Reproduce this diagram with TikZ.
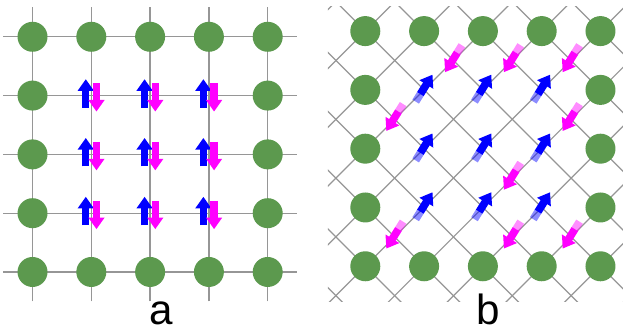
\documentclass[tikz,border=0pt]{standalone}
\usepackage{fontspec}
\setmainfont{Liberation Sans}
\usetikzlibrary{arrows.meta}
\definecolor{sitegreen}{RGB}{92,153,78}
\definecolor{linegray}{RGB}{150,150,150}
\definecolor{spinup}{RGB}{0,0,255}
\definecolor{spindown}{RGB}{255,0,255}
\tikzset{
  atom/.style={circle, fill=sitegreen, inner sep=0pt, minimum size=0.6cm},
  bond/.style={draw=linegray, line width=0.7pt},
  spin/.style={line width=4.2pt, -{Triangle[width=8.8pt,length=6.6pt]}},
  panellabel/.style={font=\fontsize{24}{28}\selectfont, anchor=base, inner sep=0pt},
}
% tilted spin of panel b: position, angle, colour
\newcommand{\tiltspin}[3]{%
  \begin{scope}[shift={#1}, rotate=#2]
    \draw[line width=4.4pt, #3, draw opacity=0.45] (-0.27,0) -- (-0.12,0);
    \draw[spin, #3, line width=4.4pt] (-0.12,0) -- (0.27,0);
  \end{scope}}

\begin{document}
\begin{tikzpicture}[x=1.176cm, y=1.176cm]
		\useasboundingbox (-0.553,-1.003) rectangle (10.043,4.626);

		%panel a: square grid
		\foreach \k in {0,...,4}
		{
		\draw [bond] (-0.5,\k) -- (4.5,\k);
		\draw [bond] (\k,-0.5) -- (\k,4.5);
		}

		%panel a: sites on the border
		\foreach \i in {0,...,4}
		{
		\node[atom] (a\i0) at (\i,0) {};
		\node[atom] (a\i4) at (\i,4) {};
		}
		\foreach \j in {1,2,3}
		{
		\node[atom] (a0\j) at (0,\j) {};
		\node[atom] (a4\j) at (4,\j) {};
		}

		%panel a: spin pairs
		\foreach \i in {1,2,3}
		\foreach \j in {1,2,3}
		{
		\draw [spin, spinup] (\i-0.094,\j-0.204) -- (\i-0.094,\j+0.279);
		\draw [spin, spindown] (\i+0.088,\j+0.211) -- (\i+0.088,\j-0.272);
		}

		\node[panellabel] (labela) at (2.197,-0.901) {a};

		%panel b: diagonal grid
		\begin{scope}
		\clip (5.025,-0.51) rectangle (10.1,4.507);
		\begin{scope}[shift={(5.66,0.097)}]
		\foreach \k in {-2,...,10}
		\draw [bond] (\k+2,-2) -- (\k-6,6);
		\foreach \m in {-6,...,6}
		\draw [bond] (\m-2,-2) -- (\m+6,6);
		\end{scope}
		\end{scope}

		\begin{scope}[shift={(5.66,0.097)}]
		%panel b: sites on the border
		\foreach \i in {0,...,4}
		{
		\node[atom] (b\i0) at (\i,0) {};
		\node[atom] (b\i4) at (\i,4) {};
		}
		\foreach \j in {1,2,3}
		{
		\node[atom] (b0\j) at (0,\j) {};
		\node[atom] (b4\j) at (4,\j) {};
		}

		%panel b: spins up
		\foreach \i in {1,2,3}
		\foreach \j in {1,2,3}
		\tiltspin{(\i,\j+0.03)}{58}{spinup};

		%panel b: spins down
		\foreach \x/\y in {1.5/3.53,2.5/3.53,3.5/3.53,0.5/2.53,3.5/2.53,
		                   2.5/1.53,0.5/0.53,2.5/0.53,3.5/0.53}
		\tiltspin{(\x,\y)}{238}{spindown};
		\end{scope}

		\node[panellabel] (labelb) at (7.747,-0.901) {b};
\end{tikzpicture}
\end{document}
